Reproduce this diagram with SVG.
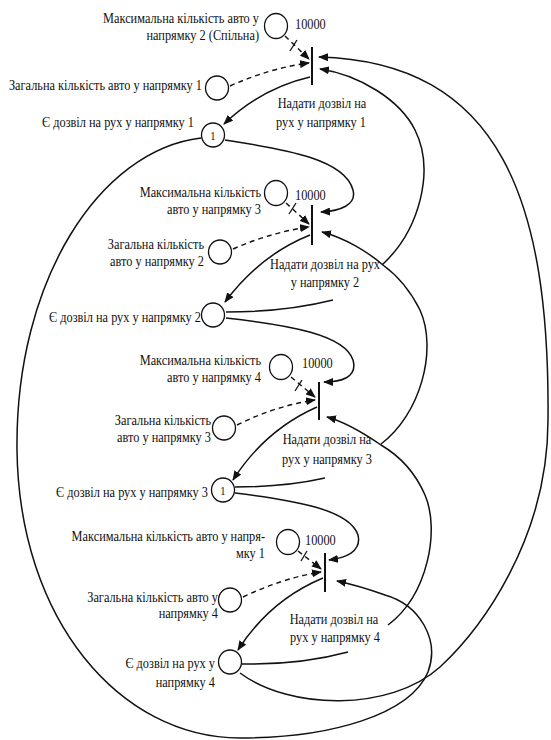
<svg xmlns="http://www.w3.org/2000/svg" width="551" height="740" viewBox="0 0 551 740">
<style>
text{font-family:"Liberation Serif","Times New Roman",serif;font-size:14px;fill:#111}
.e{text-anchor:end}.m{text-anchor:middle}
.pl{fill:#fff;stroke:#111;stroke-width:1.3}
.tr{stroke:#111;stroke-width:2}
.a{fill:none;stroke:#111;stroke-width:1.5}
.d{fill:none;stroke:#111;stroke-width:1.4;stroke-dasharray:5 4}
.s{stroke:#111;stroke-width:1.3}
</style>
<defs>
<marker id="ah" markerUnits="userSpaceOnUse" markerWidth="10" markerHeight="8" refX="9" refY="4" orient="auto">
<path d="M0,0 L10,4 L0,8 z" fill="#111"/>
</marker>
</defs>
<rect width="551" height="740" fill="#fff"/>
<g id="connectors">
<!-- block 1 -->
<path class="d" d="M285,36 L309,59" marker-end="url(#ah)"/>
<path class="s" d="M290,51 L297,40"/>
<path class="d" d="M230,86 Q270,68 309,63" marker-end="url(#ah)"/>
<path class="a" d="M310,77 Q262,88 224,124" marker-end="url(#ah)"/>
<path class="a" d="M225,140 C290,150 345,160 353,190 C357,205 340,211 321,212" marker-end="url(#ah)"/>
<path class="a" d="M240,673 C290,710 390,712 440,667 C480,630 548,540 548,420 C550,200 500,62 319,57" marker-end="url(#ah)"/>
<path class="a" d="M201,138 C100,150 15,280 17,450 C19,620 120,738 240,738 C330,738 410,715 428,672 C440,640 420,605 385,595 Q360,586 337,581" marker-end="url(#ah)"/>
<path class="a" d="M382,265 C420,230 435,170 415,130 C400,100 360,75 320,69" marker-end="url(#ah)"/>
<!-- block 2 -->
<path class="d" d="M286,203 L309,224" marker-end="url(#ah)"/>
<path class="s" d="M289,214 L296,203"/>
<path class="d" d="M233,249 Q272,232 309,227" marker-end="url(#ah)"/>
<path class="a" d="M310,235 Q260,255 225,302" marker-end="url(#ah)"/>
<path class="a" d="M226,312 Q285,312 333,300"/>
<path class="a" d="M226,318 C290,325 345,335 353,360 C358,378 340,382 324,382" marker-end="url(#ah)"/>
<path class="a" d="M381,444 C420,415 438,350 420,310 C410,290 398,276 383,265 C368,252 345,238 322,232" marker-end="url(#ah)"/>
<!-- block 3 -->
<path class="d" d="M291,377 L315,397" marker-end="url(#ah)"/>
<path class="s" d="M295,391 L302,380"/>
<path class="d" d="M237,425 Q275,406 315,400" marker-end="url(#ah)"/>
<path class="a" d="M317,407 Q265,430 233,480" marker-end="url(#ah)"/>
<path class="a" d="M235,487 Q285,487 325,478"/>
<path class="a" d="M235,493 C295,500 350,510 358,535 C362,552 345,558 329,560" marker-end="url(#ah)"/>
<path class="a" d="M388,625 C428,595 440,530 425,495 C415,472 398,455 381,445 C365,434 345,422 327,417" marker-end="url(#ah)"/>
<!-- block 4 -->
<path class="d" d="M298,551 L321,569" marker-end="url(#ah)"/>
<path class="s" d="M301,561 L307,551"/>
<path class="d" d="M243,597 Q283,578 321,572" marker-end="url(#ah)"/>
<path class="a" d="M323,578 Q270,600 238,650" marker-end="url(#ah)"/>
<path class="a" d="M242,664 Q300,665 348,652"/>
</g>
<g id="block1">
<g id="max1"><ellipse class="pl" cx="276" cy="26" rx="11.5" ry="12.5"/>
<text class="e" transform="translate(259,23) scale(0.88,1)">Максимальна кількість авто у</text>
<text class="e" transform="translate(259,40) scale(0.88,1)">напрямку 2 (Спільна)</text>
<text transform="translate(295,29) scale(0.88,1)">10000</text></g>
<g id="zag1"><ellipse class="pl" cx="217" cy="88" rx="11.5" ry="12"/>
<text class="e" transform="translate(202,90) scale(0.88,1)">Загальна кількість авто у напрямку 1</text></g>
<g id="t1"><path class="tr" d="M312,47 L312,85"/>
<text class="m" transform="translate(322,108) scale(0.88,1)">Надати дозвіл на</text>
<text class="m" transform="translate(321,127) scale(0.88,1)">рух у напрямку 1</text></g>
<g id="p1"><ellipse class="pl" cx="213" cy="135" rx="11.5" ry="12"/>
<text class="m" transform="translate(213,140) scale(0.88,1)" style="font-size:12px">1</text>
<text class="e" transform="translate(194,127) scale(0.88,1)">Є дозвіл на рух у напрямку 1</text></g>
</g>
<g id="block2">
<g id="max2"><ellipse class="pl" cx="276" cy="193" rx="11.5" ry="12.5"/>
<text class="e" transform="translate(261,197) scale(0.88,1)">Максимальна кількість</text>
<text class="e" transform="translate(261,214) scale(0.88,1)">авто у напрямку 3</text>
<text transform="translate(295,200) scale(0.88,1)">10000</text></g>
<g id="zag2"><ellipse class="pl" cx="220" cy="252" rx="11.5" ry="12"/>
<text class="e" transform="translate(204,249) scale(0.88,1)">Загальна кількість</text>
<text class="e" transform="translate(204,266) scale(0.88,1)">авто у напрямку 2</text></g>
<g id="t2"><path class="tr" d="M312,205 L312,245"/>
<text class="m" transform="translate(325,269) scale(0.88,1)">Надати дозвіл на рух</text>
<text class="m" transform="translate(325,287) scale(0.88,1)">у напрямку 2</text></g>
<g id="p2"><ellipse class="pl" cx="213" cy="315" rx="11.5" ry="12"/>
<text class="e" transform="translate(201,322) scale(0.88,1)">Є дозвіл на рух у напрямку 2</text></g>
</g>
<g id="block3">
<g id="max3"><ellipse class="pl" cx="281" cy="367" rx="11.5" ry="12.5"/>
<text class="e" transform="translate(261,365) scale(0.88,1)">Максимальна кількість</text>
<text class="e" transform="translate(261,382) scale(0.88,1)">авто у напрямку 4</text>
<text transform="translate(302,368) scale(0.88,1)">10000</text></g>
<g id="zag3"><ellipse class="pl" cx="224" cy="428" rx="11.5" ry="12"/>
<text class="e" transform="translate(211,425) scale(0.88,1)">Загальна кількість</text>
<text class="e" transform="translate(211,442) scale(0.88,1)">авто у напрямку 3</text></g>
<g id="t3"><path class="tr" d="M319,382 L319,420"/>
<text class="m" transform="translate(327,444) scale(0.88,1)">Надати дозвіл на</text>
<text class="m" transform="translate(327,464) scale(0.88,1)">рух у напрямку 3</text></g>
<g id="p3"><ellipse class="pl" cx="223" cy="490" rx="11.5" ry="12"/>
<text class="m" transform="translate(223,495) scale(0.88,1)" style="font-size:12px">1</text>
<text class="e" transform="translate(208,497) scale(0.88,1)">Є дозвіл на рух у напрямку 3</text></g>
</g>
<g id="block4">
<g id="max4"><ellipse class="pl" cx="288" cy="542" rx="11.5" ry="12.5"/>
<text class="e" transform="translate(265,541) scale(0.88,1)">Максимальна кількість авто у напря-</text>
<text class="e" transform="translate(265,558) scale(0.88,1)">мку 1</text>
<text transform="translate(305,545) scale(0.88,1)">10000</text></g>
<g id="zag4"><ellipse class="pl" cx="230" cy="600" rx="11.5" ry="12"/>
<text class="e" transform="translate(218,602) scale(0.88,1)">Загальна кількість авто у</text>
<text class="e" transform="translate(218,618) scale(0.88,1)">напрямку 4</text></g>
<g id="t4"><path class="tr" d="M325,553 L325,592"/>
<text class="m" transform="translate(334,624) scale(0.88,1)">Надати дозвіл на</text>
<text class="m" transform="translate(335,642) scale(0.88,1)">рух у напрямку 4</text></g>
<g id="p4"><ellipse class="pl" cx="230" cy="662" rx="11.5" ry="12"/>
<text class="e" transform="translate(215,668) scale(0.88,1)">Є дозвіл на рух у</text>
<text class="e" transform="translate(215,687) scale(0.88,1)">напрямку 4</text></g>
</g>
</svg>
